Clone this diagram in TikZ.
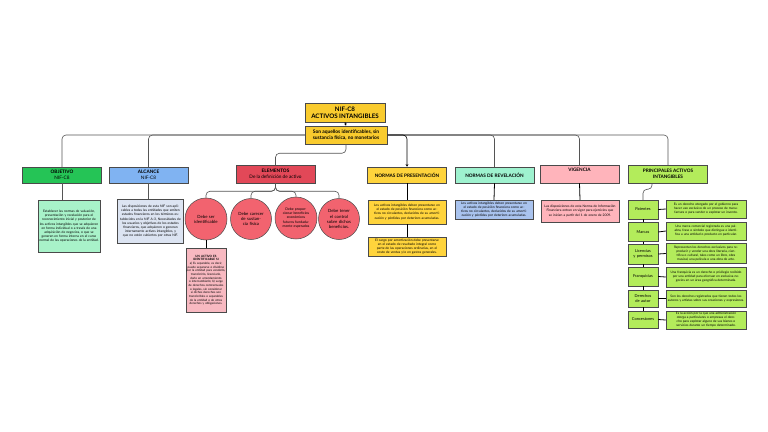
\documentclass[tikz,border=0pt]{standalone}
\usepackage{fontspec}
\setmainfont{Lato}
\usetikzlibrary{arrows.meta}
\definecolor{ytitle}{HTML}{F9CB2E}
\definecolor{cobj}{HTML}{25C456}
\definecolor{cobjl}{HTML}{A8F2C9}
\definecolor{calc}{HTML}{80B3F2}
\definecolor{calcl}{HTML}{DCE4F2}
\definecolor{celem}{HTML}{E24858}
\definecolor{ccirc}{HTML}{F2636F}
\definecolor{cpinkl}{HTML}{F8B9C1}
\definecolor{cyel}{HTML}{FFD43C}
\definecolor{caqua}{HTML}{9EF2CF}
\definecolor{crevl}{HTML}{A9C3EE}
\definecolor{cpink}{HTML}{FFB4BB}
\definecolor{clime}{HTML}{B3EC5B}
\definecolor{bord}{HTML}{4A4A4A}
\definecolor{linec}{HTML}{555555}
\begin{document}
\begin{tikzpicture}[x=1pt,y=-1pt,
  ttl/.style={draw=bord,line width=0.5pt,fill=ytitle,align=center,inner sep=0pt},
  hdr/.style={draw=bord,line width=0.5pt,minimum width=79pt,minimum height=16pt,align=center,inner sep=0pt,font=\fontsize{4.7}{5.9}\selectfont},
  tbox/.style={draw=bord,line width=0.4pt,align=center,inner sep=1pt,font=\fontsize{3.3}{4.1}\selectfont},
  circ/.style={circle,draw=bord,line width=0.5pt,fill=ccirc,align=center,inner sep=0pt,text width=30pt,font=\fontsize{4.3}{5.1}\selectfont},
  lbox/.style={draw=bord,line width=0.5pt,fill=clime,minimum width=30pt,text width=29pt,align=center,inner sep=0pt,font=\fontsize{4.0}{5.0}\selectfont},
  dbox/.style={draw=bord,line width=0.5pt,fill=clime,minimum width=80pt,text width=77pt,align=center,inner sep=0pt,font=\fontsize{3.2}{3.95}\selectfont},
  conn/.style={draw=linec,line width=0.6pt,rounded corners=4pt},
  dconn/.style={draw=black,line width=0.8pt}
]
\useasboundingbox (0,0) rectangle (768,431);

% title
\node[ttl,minimum width=80pt,minimum height=19pt,font=\bfseries\fontsize{6.2}{7.4}\selectfont] (tit) at (345,112.5) {NIF-C8\\ACTIVOS INTANGIBLES};
\node[ttl,minimum width=82pt,minimum height=18pt,font=\bfseries\fontsize{4.9}{6.2}\selectfont] (sub) at (346,135) {Son aquellos identificables, sin\\sustancia física, no monetarios};
\draw[dconn,-{Stealth[length=2.5pt,width=2.5pt]}] (tit.south) -- (sub.north);

% headers
\node[hdr,fill=cobj] (obj) at (62,175) {\textbf{OBJETIVO}\\NIF-C8};
\node[hdr,fill=calc] (alc) at (148.5,175) {\textbf{ALCANCE}\\NIF-C8};
\node[hdr,fill=celem,minimum height=18pt] (elem) at (275.5,174) {\textbf{ELEMENTOS}\\De la definición de activo};
\node[hdr,fill=cyel] (pres) at (407,175) {\textbf{NORMAS DE PRESENTACIÓN}};
\node[hdr,fill=caqua] (rev) at (494.5,175) {\textbf{NORMAS DE REVELACIÓN}};
\node[hdr,fill=cpink,minimum height=18pt] (vig) at (579.5,174) {\textbf{VIGENCIA}\\[3pt]~};
\node[hdr,fill=clime,minimum height=18pt] (prin) at (668,174) {\textbf{PRINCIPALES ACTIVOS}\\\textbf{INTANGIBLES}};

% top connectors
\draw[conn] (sub.west) -| (obj.north);
\draw[conn] (sub.west) -| (alc.north);
\draw[conn] (sub.east) -| (rev.north);
\draw[conn] (sub.east) -| (vig.north);
\draw[conn] (sub.east) -| (prin.north);
\draw[conn,-{Stealth[length=2.5pt,width=2.5pt]},draw=black] (sub.east) -| (pres.north);
\draw[conn] (sub.south) -- ++(0,9) -| (elem.north);

% objetivo / alcance texts
\node[tbox,fill=cobjl,text width=60pt,minimum height=52pt,anchor=north] (objt) at (69,200) {Establecer las normas de valuación, presentación y revelación para el reconocimiento inicial y posterior de los activos intangibles que se adquieren en forma individual o a través de una adquisición de negocios, o que se generen en forma interna en el curso normal de las operaciones de la entidad.};
\draw[conn] (obj.south) -- (obj.south |- objt.north);
\node[tbox,fill=calcl,text width=64pt,minimum height=44pt,anchor=north] (alct) at (150.5,199) {Las disposiciones de esta NIF son aplicables a todas las entidades que emiten estados financieros en los términos establecidos en la NIF A-3, Necesidades de los usuarios y objetivos de los estados financieros, que adquieren o generan internamente activos intangibles, y que no estén cubiertos por otras NIF.};
\draw[conn] (alc.south) -- (alc.south |- alct.north);

% elementos
\node[circ,minimum size=42pt] (c1) at (206,219) {Debe ser identificable};
\node[circ,minimum size=41pt] (c2) at (251,219) {Debe carecer de sustancia física};
\node[circ,minimum size=42pt,text width=29pt,font=\fontsize{3.5}{4.2}\selectfont] (c3) at (296,218) {Debe proporcionar beneficios económicos futuros fundadamente esperados};
\node[circ,minimum size=41pt] (c4) at (339,219) {Debe tener el control sobre dichos beneficios.};
\draw[conn] (elem.south) -- ++(0,8) -| (c1.north);
\draw[conn] (elem.south) -- ++(0,8) -| (c2.north);
\draw[conn] (elem.south) -- ++(0,8) -| (c3.north);
\draw[conn] (elem.south) -- ++(0,8) -| (c4.north);
\node[tbox,fill=cpinkl,text width=39pt,minimum height=64pt,anchor=north,inner sep=0.5pt,font=\fontsize{3.0}{3.65}\selectfont] (idt) at (206,248) {\textbf{UN ACTIVO ES IDENTIFICABLE SI}\\a) Es separable, es decir, puede separarse o dividirse por la entidad para venderlo, transferirlo, licenciarlo, darlo en arrendamiento o intercambiarlo; b) surge de derechos contractuales o legales, sin considerar si dichos derechos son transferibles o separables de la entidad o de otros derechos y obligaciones.};
\draw[dconn] (c1.south) -- (idt.north);

% normas de presentacion
\node[tbox,fill=cyel,text width=76pt,minimum height=24pt] (p1) at (407,212) {Los activos intangibles deben presentarse en el estado de posición financiera como activos no circulantes, deducidos de su amortización y pérdidas por deterioro acumuladas.};
\node[tbox,fill=cyel,text width=76pt,minimum height=19pt] (p2) at (407,246.5) {El cargo por amortización debe presentarse en el estado de resultado integral como parte de las operaciones ordinarias, en el costo de ventas y/o en gastos generales.};
\draw[dconn] (pres.south) -- (p1.north);
\draw[dconn] (p1.south) -- (p2.north);

% revelacion
\node[tbox,fill=crevl,text width=76pt,minimum height=19pt] (r1) at (494,209.5) {Los activos intangibles deben presentarse en el estado de posición financiera como activos no circulantes, deducidos de su amortización y pérdidas por deterioro acumuladas.};
\draw[dconn] (rev.south) -- (r1.north);

% vigencia
\node[tbox,fill=cpink,text width=76pt,minimum height=22pt] (v1) at (580,211) {Las disposiciones de esta Norma de Información Financiera entran en vigor para ejercicios que\\se inicien a partir del 1 de enero de 2009.};
\draw[dconn] (vig.south) -- (v1.north);

% principales
\node[lbox,minimum height=19pt] (pat) at (643,209.5) {Patentes};
\node[lbox,minimum height=19pt] (mar) at (643,232) {Marcas};
\node[lbox,minimum height=20pt] (lic) at (643,254) {Licencias y permisos};
\node[lbox,minimum height=19pt] (fra) at (643,276.5) {Franquicias};
\node[lbox,minimum height=17pt] (der) at (643,298.5) {Derechos de autor};
\node[lbox,minimum height=17pt] (con) at (643,319.5) {Concesiones};
\node[dbox,minimum height=18pt] (pd) at (706,209) {Es un derecho otorgado por el gobierno para hacer uso exclusivo de un proceso de manufactura o para vender o explotar un invento.};
\node[dbox,minimum height=18pt] (md) at (706,231) {Una marca comercial registrada es una palabra, frase o símbolo que distingue e identifica a una entidad o producto en particular.};
\node[dbox,minimum height=20pt] (ld) at (706,253.5) {Representan los derechos exclusivos para reproducir y vender una obra literaria, científica o cultural, tales como un libro, obra musical, una película o una obra de arte.};
\node[dbox,minimum height=20pt] (fd) at (706,277) {Una franquicia es un derecho o privilegio recibido por una entidad para efectuar en exclusiva negocios en un área geográfica determinada.};
\node[dbox,minimum height=17pt] (dd) at (706,298.5) {Son los derechos registrados que tienen todos los autores y artistas sobre sus creaciones y expresiones.};
\node[dbox,minimum height=18pt] (cd) at (706,320) {Es la acción por la que una administración otorga a particulares o empresas el derecho para explotar alguno de sus bienes o servicios durante un tiempo determinado.};
\draw[conn] ([xshift=-16pt]prin.south) -- ++(0,6) -| (pat.north);
\foreach \a/\b in {pat/mar,mar/lic,lic/fra,fra/der,der/con}{\draw[dconn] (\a.south) -- (\b.north);}
\foreach \a/\b in {pat/pd,mar/md,lic/ld,fra/fd,der/dd,con/cd}{\draw[dconn] (\a.east) -- (\b.west);}
\end{tikzpicture}
\end{document}
